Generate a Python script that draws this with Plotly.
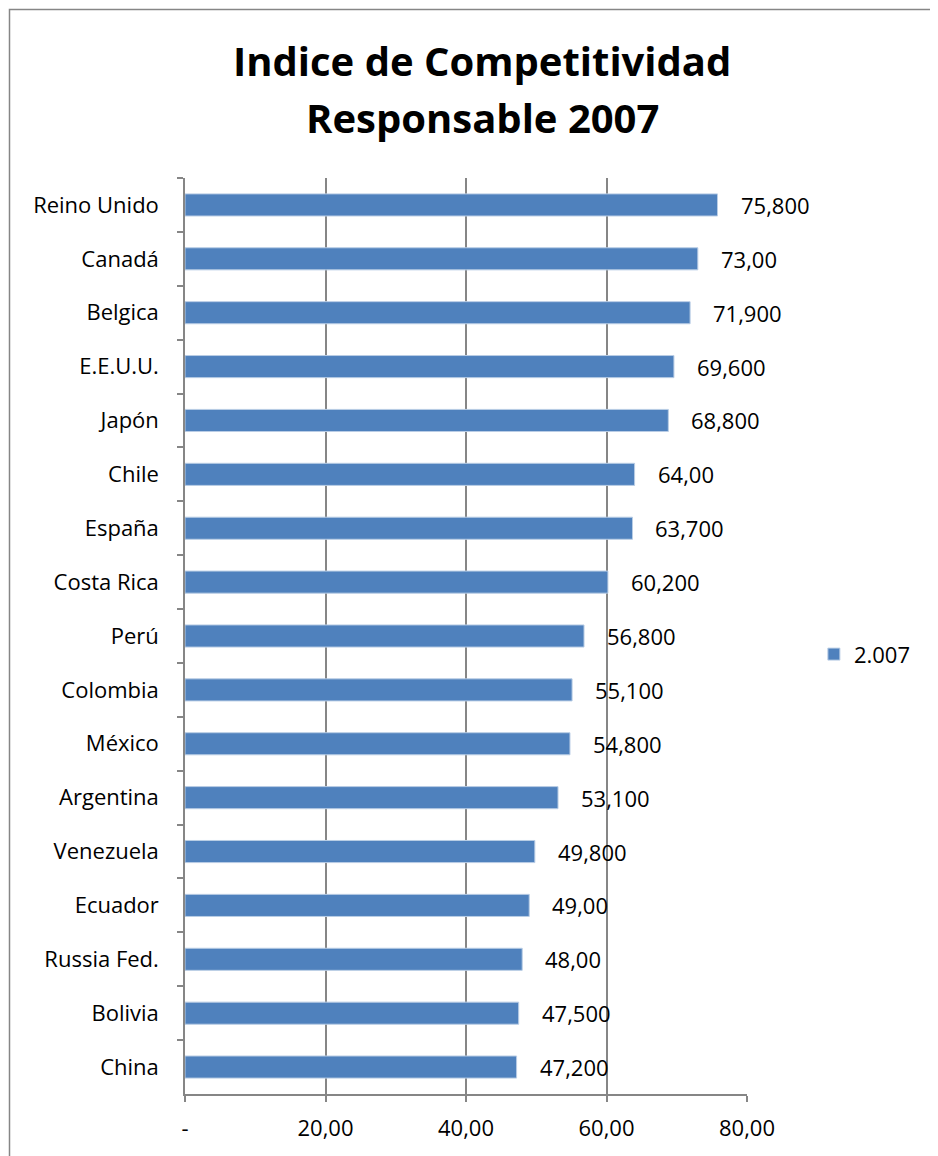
import plotly.graph_objects as go

countries = ["Reino Unido", "Canadá", "Belgica", "E.E.U.U.", "Japón", "Chile", "España",
             "Costa Rica", "Perú", "Colombia", "México", "Argentina", "Venezuela",
             "Ecuador", "Russia Fed.", "Bolivia", "China"]
values = [75.8, 73.0, 71.9, 69.6, 68.8, 64.0, 63.7, 60.2, 56.8, 55.1, 54.8, 53.1,
          49.8, 49.0, 48.0, 47.5, 47.2]
value_labels = ["75,800", "73,00", "71,900", "69,600", "68,800", "64,00", "63,700",
                "60,200", "56,800", "55,100", "54,800", "53,100", "49,800", "49,00",
                "48,00", "47,500", "47,200"]
x_tickvals = [0, 20, 40, 60, 80]
x_ticktext = ["-", "20,00", "40,00", "60,00", "80,00"]
series_name = "2.007"
title_lines = ["Indice de Competitividad", "Responsable 2007"]

FONT = "Open Sans"
GRAY = "#868686"

# plot area on screen: x 185..747, y 178..1094 (page has an 8px body margin)
PW, PH = 562, 916

fig = go.Figure()
fig.add_trace(go.Bar(
    y=countries, x=values, orientation="h", name=series_name,
    marker=dict(color="#4F81BD", line=dict(color="#B9CDE5", width=1)),
    showlegend=True,
))

for c, v, t in zip(countries, values, value_labels):
    fig.add_annotation(x=v, y=c, text=t, showarrow=False, xanchor="left",
                       xshift=21, font=dict(family=FONT, size=22, color="black"))

for line, sy in zip(title_lines, [60, 118]):
    fig.add_annotation(xref="paper", yref="paper", x=(482 - 185) / PW,
                       y=(1094 - sy) / PH, text="<b>" + line + "</b>",
                       showarrow=False, xanchor="center", yanchor="middle",
                       font=dict(family=FONT, size=40, color="black"))

fig.add_shape(type="rect", xref="paper", yref="paper",
              x0=(9.5 - 185) / PW, x1=(990 - 185) / PW,
              y0=(1094 - 1200) / PH, y1=(1094 - 9.5) / PH,
              line=dict(color="#868686", width=1.5), layer="below")

fig.update_layout(
    width=930, height=1148,
    margin=dict(l=177, r=191, t=170, b=62),
    paper_bgcolor="white", plot_bgcolor="white",
    bargap=0.59,
    legend=dict(x=1.119, y=0.48, xanchor="left", yanchor="middle",
                font=dict(family=FONT, size=22, color="black"),
                bgcolor="rgba(0,0,0,0)"),
    font=dict(family=FONT, size=22, color="black"),
)

fig.update_xaxes(range=[0, 80], tickvals=x_tickvals, ticktext=x_ticktext,
                 showgrid=True, gridcolor=GRAY, gridwidth=1.5,
                 showline=True, linecolor=GRAY, linewidth=1.5,
                 ticks="outside", ticklen=6, tickcolor=GRAY, tickwidth=1.5,
                 zeroline=False, tickfont=dict(family=FONT, size=22, color="black"),
                 ticklabelstandoff=8, fixedrange=True)
fig.update_yaxes(autorange="reversed", showgrid=False,
                 showline=True, linecolor=GRAY, linewidth=1.5,
                 ticks="outside", tickson="boundaries", ticklen=6, tickcolor=GRAY,
                 tickwidth=1.5, tickfont=dict(family=FONT, size=22, color="black"),
                 ticklabelstandoff=20, fixedrange=True)

fig.write_html("out.html")
